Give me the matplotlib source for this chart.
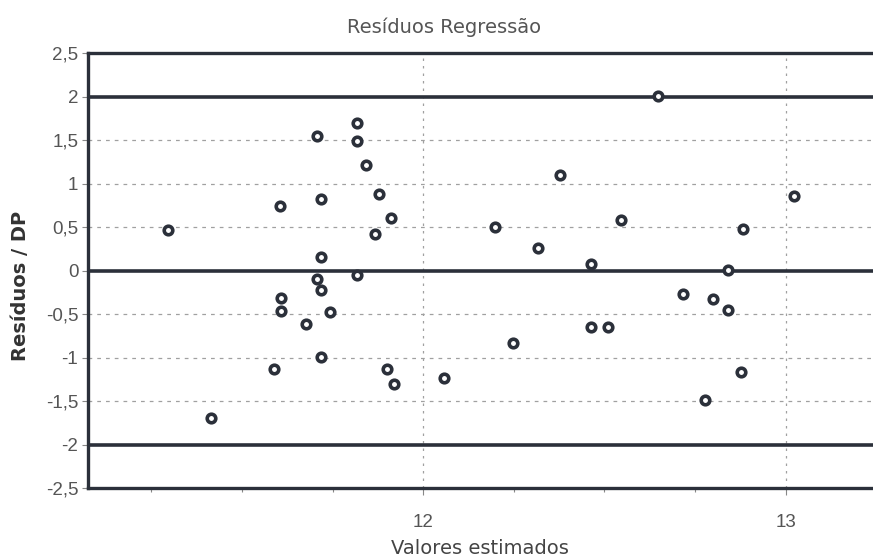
import numpy as np
import matplotlib
matplotlib.use("Agg")
import matplotlib.pyplot as plt
from matplotlib.ticker import FixedLocator, MultipleLocator

# Data
valores_estimados = [
    11.295, 11.415, 11.605, 11.708, 11.816, 11.816, 11.842, 11.877, 11.717, 11.912,
    11.868, 11.717, 11.816, 11.708, 11.717, 11.608, 11.608, 11.744, 11.676, 11.717,
    11.588, 11.900, 11.919, 12.648, 12.378, 13.023, 12.197, 12.545, 12.882, 12.316,
    12.462, 12.840, 12.717, 12.800, 12.840, 12.462, 12.509, 12.249, 12.056, 12.877,
    12.778,
]
residuos_dp = [
    0.46, -1.70, 0.747, 1.544, 1.697, 1.486, 1.21, 0.885, 0.824, 0.605,
    0.421, 0.153, -0.057, -0.103, -0.226, -0.314, -0.471, -0.479, -0.62, -0.99,
    -1.13, -1.13, -1.30, 2.003, 1.095, 0.854, 0.498, 0.575, 0.479, 0.253,
    0.077, 0.004, -0.268, -0.322, -0.456, -0.647, -0.647, -0.839, -1.233, -1.164,
    -1.494,
]
y_ticks = [2.5, 2, 1.5, 1, 0.5, 0, -0.5, -1, -1.5, -2, -2.5]
y_tick_labels = ["2,5", "2", "1,5", "1", "0,5", "0", "-0,5", "-1", "-1,5", "-2", "-2,5"]
x_ticks = [12, 13]
x_tick_labels = ["12", "13"]
ref_lines = [2, 0, -2]

DARK = "#2b303a"
TEXT = "#555555"
plt.rcParams["font.family"] = ["Liberation Sans", "DejaVu Sans"]

fig = plt.figure(figsize=(8.73, 5.60), dpi=100)
ax = fig.add_axes([88 / 873, 1 - 488 / 560, 1 - 88 / 873 + 0.01, (488 - 53) / 560])

ax.set_xlim(11.075, 13.265)
ax.set_ylim(-2.5, 2.5)

# dashed grid
for y in [1.5, 1, 0.5, -0.5, -1, -1.5]:
    ax.axhline(y, color="#a0a0a0", lw=0.9, ls=(0, (3, 4)), zorder=1)
for x in x_ticks:
    ax.axvline(x, color="#a0a0a0", lw=0.9, ls=(0, (2, 4)), zorder=1)

# solid reference lines
for y in ref_lines:
    ax.axhline(y, color=DARK, lw=2.6, zorder=2)

ax.scatter(valores_estimados, residuos_dp, s=38, facecolors="white",
           edgecolors=DARK, linewidths=2.6, zorder=3)

for side in ["left", "top", "bottom"]:
    ax.spines[side].set_color(DARK)
    ax.spines[side].set_linewidth(2.4)
ax.spines["right"].set_visible(False)

ax.yaxis.set_major_locator(FixedLocator(y_ticks))
ax.set_yticklabels(y_tick_labels)
ax.xaxis.set_major_locator(FixedLocator(x_ticks))
ax.set_xticklabels(x_tick_labels)
ax.xaxis.set_minor_locator(MultipleLocator(0.25))
ax.tick_params(axis="y", length=4, width=0.8, color="#888888", labelsize=13.5,
               labelcolor=TEXT, pad=3)
ax.tick_params(axis="x", which="major", length=5, width=0.8, color="#888888",
               labelsize=13.5, labelcolor=TEXT, pad=14)
ax.tick_params(axis="x", which="minor", length=3, width=0.8, color="#888888")

fig.text(444 / 873, 1 - 27 / 560, "Resíduos Regressão", ha="center", va="center",
         fontsize=14, color=TEXT, family=["DejaVu Sans"])
fig.text(480 / 873, 1 - 549 / 560, "Valores estimados", ha="center", va="center",
         fontsize=14, color="#444444", family=["DejaVu Sans"])
fig.text(21 / 873, 1 - 286 / 560, "Resíduos / DP", ha="center", va="center",
         rotation=90, fontsize=14, fontweight="bold", color="#333333",
         family=["DejaVu Sans"])

fig.savefig("out.png", dpi=100)
